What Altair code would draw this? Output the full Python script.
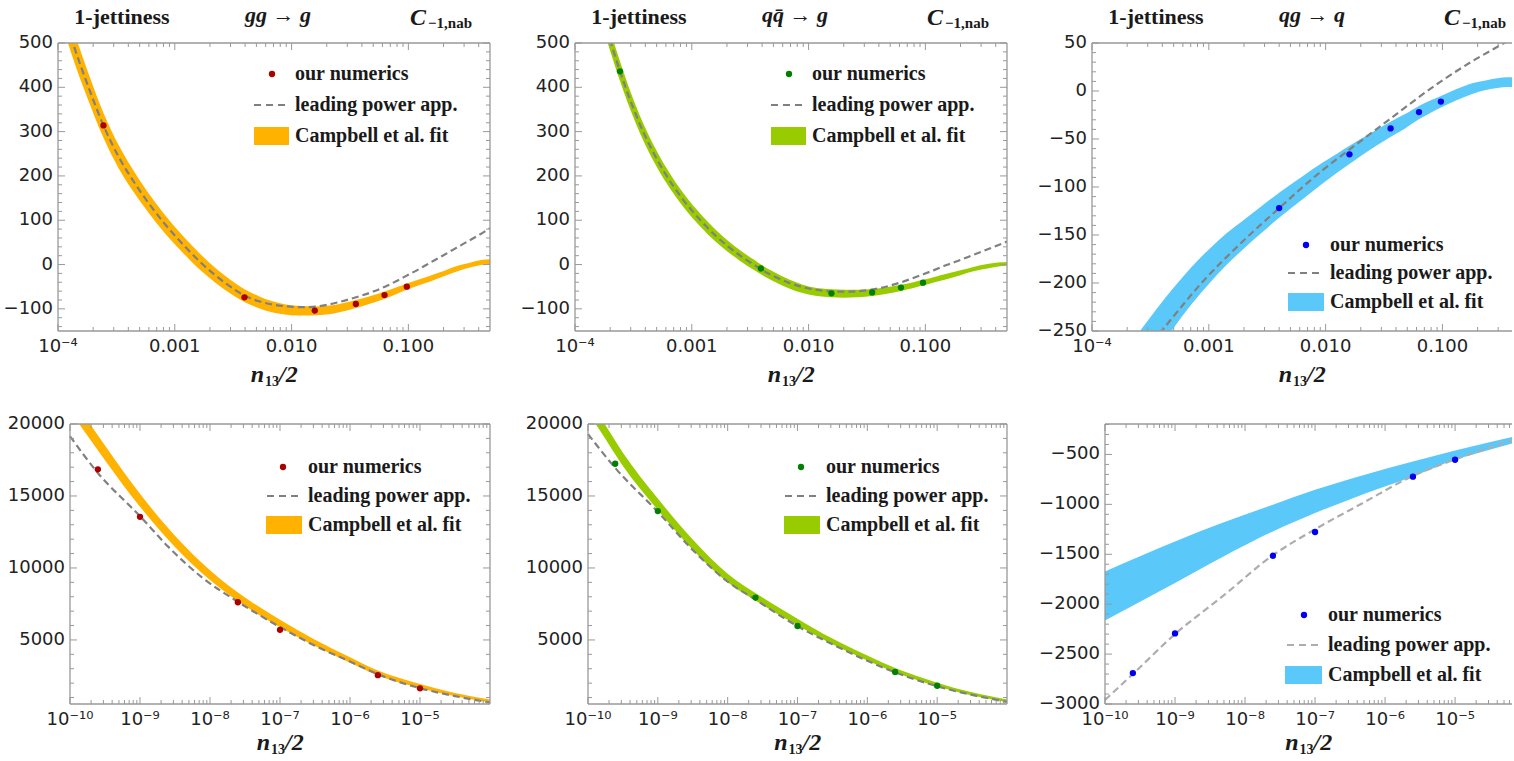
import altair as alt
import pandas as pd

# ---------------- top row: x = n13/2 ----------------
# gg -> g : Campbell fit band (centre and half-width), leading-power curve, numerics
gg_band_x = [1e-4, 1.34e-4, 1.78e-4, 2.45e-4, 3.31e-4, 4.43e-4, 5.96e-4, 8.02e-4, 1.15e-3, 1.66e-3, 2.24e-3,
             2.99e-3, 3.95e-3, 5.25e-3, 6.76e-3, 8.71e-3, 1.12e-2, 1.41e-2, 1.58e-2, 2.0e-2, 2.51e-2, 3.55e-2,
             4.68e-2, 6.24e-2, 7.94e-2, 9.66e-2, 0.123, 0.156, 0.204, 0.264, 0.331, 0.419, 0.5]
gg_band_c = [610, 500, 408, 314, 243, 188, 139, 95, 48, 5, -25, -50, -70, -85, -95, -101, -104, -104.5, -104.5,
             -103, -99, -89, -80, -69, -59, -50, -40, -31, -20, -9, -2, 4.5, 6.5]
gg_band_hw = [35, 34, 31, 28, 26, 24, 22, 21, 19, 18, 16.5, 15.5, 14.5, 13.5, 12.5, 11.5, 11, 10.5, 10, 10, 9.5,
              9, 8.5, 8, 7.5, 7, 6.5, 6.5, 6, 6, 5.5, 5.5, 5.5]
gg_lp_x = [1e-4, 1.34e-4, 1.78e-4, 2.45e-4, 3.31e-4, 4.43e-4, 5.96e-4, 8.02e-4, 1.15e-3, 1.66e-3, 2.24e-3,
           2.99e-3, 3.95e-3, 5.25e-3, 6.76e-3, 8.71e-3, 1.12e-2, 1.41e-2, 2.0e-2, 2.51e-2, 3.16e-2, 3.98e-2,
           5.01e-2, 6.31e-2, 7.94e-2, 0.1, 0.126, 0.158, 0.2, 0.251, 0.316, 0.398, 0.5]
gg_lp_y = [610, 500, 408, 314, 243, 188, 139, 95, 48, 5, -25, -50, -70, -83, -90, -94, -96, -96, -91, -85, -78,
           -70, -61, -50, -37, -23, -9, 6, 21, 36, 51, 66, 82]
gg_num_x = [2.45e-4, 3.95e-3, 1.58e-2, 3.55e-2, 6.25e-2, 9.7e-2]
gg_num_y = [314, -74, -104, -89, -69, -50]

# q qbar -> g
qq_band_x = [1e-4, 1.41e-4, 2.03e-4, 2.43e-4, 3.02e-4, 3.8e-4, 4.79e-4, 6.03e-4, 8.51e-4, 1.205e-3, 1.585e-3,
             2.04e-3, 2.63e-3, 3.47e-3, 3.91e-3, 5.01e-3, 6.9e-3, 8.91e-3, 1.175e-2, 1.574e-2, 2.0e-2, 2.63e-2,
             3.51e-2, 4.68e-2, 6.18e-2, 7.76e-2, 9.55e-2, 0.12, 0.152, 0.2, 0.258, 0.339, 0.438, 0.5]
qq_band_c = [770, 637, 500, 436, 366, 302, 248, 202, 145, 98, 66, 41, 19, -2, -11, -27, -44.6, -55, -62, -65,
             -66, -65.5, -63, -58.5, -52.5, -47, -41, -34, -27, -18.5, -10.4, -4, 0.5, 1.5]
qq_band_hw = [26, 24.5, 23, 22, 20.5, 19, 18, 17, 15.5, 14.5, 13.5, 12.5, 12, 11.5, 11, 10.5, 10, 9.5, 9, 9,
              9, 8.5, 8, 7.5, 7, 6.5, 6.5, 6, 6, 5.5, 5, 5, 4.5, 4.5]
qq_lp_x = [1e-4, 1.41e-4, 2.03e-4, 2.43e-4, 3.02e-4, 3.8e-4, 4.79e-4, 6.03e-4, 8.51e-4, 1.205e-3, 1.585e-3,
           2.04e-3, 2.63e-3, 3.47e-3, 3.91e-3, 5.01e-3, 6.9e-3, 9.6e-3, 1.26e-2, 1.62e-2, 2.25e-2, 2.82e-2,
           3.57e-2, 4.68e-2, 6.05e-2, 7.59e-2, 9.6e-2, 0.12, 0.152, 0.2, 0.258, 0.355, 0.5]
qq_lp_y = [770, 637, 500, 436, 366, 302, 248, 202, 145, 98, 66, 41, 19, -2, -11, -26, -42, -53, -58.5, -61,
           -61, -59.5, -56, -49.5, -41, -32, -22, -12, -1, 10.5, 22, 36, 52]
qq_num_x = [2.43e-4, 3.91e-3, 1.57e-2, 3.5e-2, 6.18e-2, 9.55e-2]
qq_num_y = [436, -9, -65, -63, -52, -41]

# q g -> q
qg_band_x = [2.0e-4, 2.69e-4, 3.57e-4, 5.01e-4, 7.08e-4, 1.0e-3, 1.41e-3, 2.0e-3, 2.82e-3, 4.0e-3, 6.31e-3,
             9.3e-3, 1.26e-2, 1.6e-2, 2.4e-2, 3.59e-2, 4.79e-2, 6.28e-2, 7.94e-2, 9.7e-2, 0.132, 0.18, 0.234,
             0.305, 0.355, 0.398]
qg_band_c = [-294, -271, -250, -225.7, -203, -183, -165, -149, -134, -119, -101, -86, -75, -66.6, -52.8, -40,
             -31.5, -22.5, -16.2, -11.2, -3.8, 2.5, 6, 8.5, 9.2, 9.3]
qg_band_hw = [25, 24, 23, 21, 19.5, 18, 16.5, 15, 14, 13, 12, 11, 10, 9.5, 8.5, 8, 7.5, 7, 6.5, 6, 5.8, 5.5, 5,
              5, 5, 5]
qg_lp_x = [2.5e-4, 3.94e-4, 9.27e-4, 1.79e-3, 4.0e-3, 9.3e-3, 1.6e-2, 3.48e-2, 9.3e-2, 0.18, 0.316, 0.398]
qg_lp_y = [-279, -250, -196, -161, -122, -83, -61, -30, 8.5, 31, 48, 55]
qg_num_x = [4.0e-3, 1.6e-2, 3.6e-2, 6.3e-2, 9.7e-2]
qg_num_y = [-122, -66, -39, -22, -11]

# ---------------- bottom row ----------------
ggb_band_x = [1e-10, 1.62e-10, 3.16e-10, 1e-9, 3.16e-9, 1e-8, 3.16e-8, 1e-7, 3.16e-7, 1e-6, 2.5e-6, 1e-5, 3.16e-5, 1e-4]
ggb_band_lo = [20940, 19460, 17490, 14250, 11460, 9160, 7350, 5890, 4580, 3410, 2530, 1660, 1080, 660]
ggb_band_hi = [22060, 20540, 18510, 15150, 12240, 9840, 7950, 6410, 5020, 3790, 2870, 1940, 1320, 860]
ggb_lp_x = [1e-10, 2.5e-10, 1e-9, 2.5e-9, 7.9e-9, 2.5e-8, 1e-7, 3.16e-7, 1e-6, 2.5e-6, 1e-5, 3.16e-5, 1e-4]
ggb_lp_y = [19150, 16600, 13600, 11500, 9300, 7650, 5900, 4600, 3500, 2620, 1650, 1100, 650]
ggb_num_x = [2.5e-10, 1e-9, 2.5e-8, 1e-7, 2.5e-6, 1e-5]
ggb_num_y = [16850, 13550, 7620, 5700, 2550, 1640]

qqb_band_x = [1e-10, 1.5e-10, 3.16e-10, 1e-9, 3.16e-9, 1e-8, 3.16e-8, 1e-7, 3.16e-7, 1e-6, 2.5e-6, 1e-5, 3.16e-5, 1e-4]
qqb_band_lo = [20800, 19510, 17090, 14030, 11270, 9000, 7430, 6020, 4700, 3580, 2750, 1770, 1140, 690]
qqb_band_hi = [21800, 20490, 18010, 14830, 11970, 9600, 7950, 6480, 5100, 3920, 3050, 2030, 1360, 870]
qqb_lp_x = [1e-10, 2.5e-10, 1e-9, 3.16e-9, 1e-8, 2.5e-8, 1e-7, 3.16e-7, 1e-6, 2.5e-6, 1e-5, 3.16e-5, 1e-4]
qqb_lp_y = [19300, 16900, 13900, 11250, 9050, 7800, 5950, 4700, 3550, 2750, 1780, 1180, 700]
qqb_num_x = [2.45e-10, 1e-9, 2.5e-8, 1e-7, 2.5e-6, 1e-5]
qqb_num_y = [17240, 13950, 7940, 5970, 2780, 1820]

qgb_band_x = [1e-10, 1e-9, 5e-9, 2.5e-8, 1e-7, 5e-7, 2.5e-6, 1e-5, 3.2e-5, 6.5e-5]
qgb_band_lo = [-2163, -1788, -1520, -1271, -1087, -895, -720, -553, -450, -390]
qgb_band_hi = [-1672, -1371, -1180, -1004, -854, -705, -570, -460, -375, -324]
qgb_lp_x = [1e-10, 2.5e-10, 1e-9, 5e-9, 2.5e-8, 1e-7, 5e-7, 2.5e-6, 1e-5, 6.5e-5]
qgb_lp_y = [-2960, -2700, -2300, -1910, -1510, -1250, -980, -715, -550, -360]
qgb_num_x = [2.5e-10, 1e-9, 2.5e-8, 1e-7, 2.5e-6, 1e-5]
qgb_num_y = [-2690, -2293, -1515, -1277, -723, -553]

# ---------------- ticks & labels ----------------
top_xticks = [1e-4, 1e-3, 1e-2, 1e-1]
top_xlabels = ['10⁻⁴', '0.001', '0.010', '0.100']
bot_xticks = [1e-10, 1e-9, 1e-8, 1e-7, 1e-6, 1e-5]
bot_xlabels = ['10⁻¹⁰', '10⁻⁹', '10⁻⁸', '10⁻⁷', '10⁻⁶', '10⁻⁵']
y_top_ab = [-100, 0, 100, 200, 300, 400, 500]
y_top_ab_labels = ['−100', '0', '100', '200', '300', '400', '500']
y_top_c = [-250, -200, -150, -100, -50, 0, 50]
y_top_c_labels = ['−250', '−200', '−150', '−100', '−50', '0', '50']
y_bot_ab = [5000, 10000, 15000, 20000]
y_bot_ab_labels = ['5000', '10000', '15000', '20000']
y_bot_c = [-3000, -2500, -2000, -1500, -1000, -500]
y_bot_c_labels = ['−3000', '−2500', '−2000', '−1500', '−1000', '−500']

legend_labels = ['our numerics', 'leading power app.', 'Campbell et al. fit']

ORANGE, GREEN, BLUE = '#FFB300', '#99CC00', '#5BC8FA'
RED_PT, GREEN_PT, BLUE_PT = '#AA0000', '#008000', '#0000F0'
LP, LP_LIGHT = '#808080', '#ADADAD'
FRAME = '#999999'
SERIF = 'Liberation Serif'
SANS = 'DejaVu Sans'
TXT = '#1a1a1a'

one = pd.DataFrame({'k': [0]})


def band_from(c, hw):
    return [a - b for a, b in zip(c, hw)], [a + b for a, b in zip(c, hw)]


def minor_log(dom):
    out = []
    for e in range(-10, 0):
        for k in range(2, 10):
            v = k * 10.0 ** e
            if dom[0] < v < dom[1] * 0.999:
                out.append(v)
    return out


def text(s, x, y, size, weight='bold', style='normal', align='left', baseline='alphabetic', font=SERIF, color=TXT):
    return alt.Chart(one).mark_text(text=s, font=font, fontSize=size, fontWeight=weight, fontStyle=style,
                                    align=align, baseline=baseline, color=color).encode(
        x=alt.value(x), y=alt.value(y))


def panel(W, H, x0, xdom, ydom, band, lp, num, cols, xt, xl, yt, yl, ystep, leg, ty,
          right=True, title=None, pin=False):
    xs = alt.Scale(type='log', domain=xdom, range=[x0, W], nice=False, padding=0)
    ys = alt.Scale(domain=ydom, nice=False, zero=False, padding=0)
    X = lambda f: alt.X(f, scale=xs, axis=None)
    Y = lambda f: alt.Y(f, scale=ys, axis=None)
    bc, pc, dc = cols
    L = []
    bdf = pd.DataFrame({'x': band[0], 'lo': band[1], 'hi': band[2]})
    L.append(alt.Chart(bdf).mark_area(color=bc, opacity=1, interpolate='monotone', clip=True).encode(
        x=X('x:Q'), y=Y('lo:Q'), y2='hi:Q'))
    ldf = pd.DataFrame({'x': lp[0], 'y': lp[1]})
    L.append(alt.Chart(ldf).mark_line(color=dc, strokeDash=[7, 4], strokeWidth=2.2,
                                      interpolate='monotone', clip=True).encode(x=X('x:Q'), y=Y('y:Q')))
    ndf = pd.DataFrame({'x': num[0], 'y': num[1]})
    L.append(alt.Chart(ndf).mark_circle(color=pc, size=40, opacity=1).encode(x=X('x:Q'), y=Y('y:Q')))

    # ticks (inward, Mathematica style)
    xmin = minor_log(xdom)
    xmaj = [v for v in xt if xdom[0] <= v <= xdom[1]]
    ymaj = [v for v in yt if ydom[0] <= v <= ydom[1]]
    ymin = []
    v = ymaj[0]
    while v - ystep > ydom[0]:
        v -= ystep
    while v < ydom[1]:
        if v not in ymaj:
            ymin.append(v)
        v += ystep

    rule = dict(color=FRAME, strokeWidth=1)

    def xtick(vals, ln):
        d = pd.DataFrame({'v': vals})
        return [alt.Chart(d).mark_rule(**rule).encode(x=X('v:Q'), y=alt.value(H), y2=alt.value(H - ln)),
                alt.Chart(d).mark_rule(**rule).encode(x=X('v:Q'), y=alt.value(0), y2=alt.value(ln))]

    def ytick(vals, ln):
        d = pd.DataFrame({'v': vals})
        r = [alt.Chart(d).mark_rule(**rule).encode(y=Y('v:Q'), x=alt.value(x0), x2=alt.value(x0 + ln))]
        if right:
            r.append(alt.Chart(d).mark_rule(**rule).encode(y=Y('v:Q'), x=alt.value(W), x2=alt.value(W - ln)))
        return r

    L += xtick(xmaj, 7) + xtick(xmin, 4) + ytick(ymaj, 7) + ytick(ymin, 4)

    # frame
    fr = dict(color=FRAME, strokeWidth=1.3)
    L.append(alt.Chart(one).mark_rule(**fr).encode(x=alt.value(x0), x2=alt.value(W), y=alt.value(0)))
    L.append(alt.Chart(one).mark_rule(**fr).encode(x=alt.value(x0), x2=alt.value(W), y=alt.value(H)))
    L.append(alt.Chart(one).mark_rule(**fr).encode(x=alt.value(x0), y=alt.value(0), y2=alt.value(H)))
    if right:
        L.append(alt.Chart(one).mark_rule(**fr).encode(x=alt.value(W), y=alt.value(0), y2=alt.value(H)))

    # tick labels
    xldf = pd.DataFrame({'v': xt, 'lab': xl})
    L.append(alt.Chart(xldf).mark_text(font=SANS, fontSize=18, color='#222', align='center',
                                       baseline='alphabetic').encode(x=X('v:Q'), y=alt.value(H + 21), text='lab:N'))
    yldf = pd.DataFrame({'v': yt, 'lab': yl})
    L.append(alt.Chart(yldf).mark_text(font=SANS, fontSize=18, color='#222', align='right',
                                       baseline='middle').encode(y=Y('v:Q'), x=alt.value(x0 - 5), text='lab:N'))

    # legend
    (px, py), tx, rows, (d1, d2, dy), (r1, r2, ry1, ry2) = leg
    L.append(alt.Chart(one).mark_circle(color=pc, size=40, opacity=1).encode(
        x=alt.value(x0 + px), y=alt.value(py)))
    L.append(alt.Chart(one).mark_rule(color=dc, strokeDash=[7, 5], strokeWidth=2).encode(
        x=alt.value(x0 + d1), x2=alt.value(x0 + d2), y=alt.value(dy)))
    L.append(alt.Chart(one).mark_rect(color=bc).encode(
        x=alt.value(x0 + r1), x2=alt.value(x0 + r2), y=alt.value(ry1), y2=alt.value(ry2)))
    for s, ry in zip(legend_labels, rows):
        L.append(text(s, x0 + tx, ry, 20, baseline='middle'))

    # x-axis title n_13/2
    cx = x0 + (W - x0) / 2
    L.append(text('n', cx - 10, H + ty, 24, style='italic', align='right'))
    L.append(text('13', cx - 9, H + ty + 4, 14, align='left'))
    L.append(text('/2', cx + 5, H + ty, 24, style='italic', align='left'))

    if title:
        L.append(text('1-jettiness', x0 + 64, -19, 22, align='center'))
        L.append(text(title, x0 + 220, -21, 22, style='italic', align='center'))
        L.append(text('C', x0 + 352, -18, 24, style='italic'))
        L.append(text('−1,nab', x0 + 370, -15, 15))
    if pin:
        L.append(alt.Chart(one).mark_rule(strokeWidth=0, opacity=0).encode(
            x=alt.value(-58), x2=alt.value(-57), y=alt.value(-43)))
    return alt.layer(*L).properties(width=W, height=H)


leg_top = ((214, 31), 237, [31, 62, 93], (196, 229, 62), (196, 231, 84, 102))
leg_qg = ((214, 202), 238, [202, 230, 259], (196, 230, 230), (196, 232, 250, 268))
leg_bot = ((213, 43), 238, [43, 72, 101], (197, 230, 72), (196, 232, 92, 110))
leg_qgb = ((199, 191), 223, [191, 221, 251], (182, 214, 221), (180, 217, 242, 260))

gg_lo, gg_hi = band_from(gg_band_c, gg_band_hw)
qq_lo, qq_hi = band_from(qq_band_c, qq_band_hw)
qg_lo, qg_hi = band_from(qg_band_c, qg_band_hw)

p1 = panel(432, 288, 0, [1e-4, 0.5], [-150, 500], (gg_band_x, gg_lo, gg_hi), (gg_lp_x, gg_lp_y),
           (gg_num_x, gg_num_y), (ORANGE, RED_PT, LP), top_xticks, top_xlabels, y_top_ab, y_top_ab_labels, 20,
           leg_top, 51, title='gg → g', pin=True)
p2 = panel(432, 288, 0, [1e-4, 0.5], [-150, 500], (qq_band_x, qq_lo, qq_hi), (qq_lp_x, qq_lp_y),
           (qq_num_x, qq_num_y), (GREEN, GREEN_PT, LP), top_xticks, top_xlabels, y_top_ab, y_top_ab_labels, 20,
           leg_top, 51, title='qq̄ → g')
p3 = panel(420, 288, 0, [1e-4, 0.394], [-250, 50], (qg_band_x, qg_lo, qg_hi), (qg_lp_x, qg_lp_y),
           (qg_num_x, qg_num_y), (BLUE, BLUE_PT, LP), top_xticks, top_xlabels, y_top_c, y_top_c_labels, 10,
           leg_qg, 51, right=False, title='qg → q')
p4 = panel(432, 280, 12, [1e-10, 1e-4], [550, 20000], (ggb_band_x, ggb_band_lo, ggb_band_hi),
           (ggb_lp_x, ggb_lp_y), (ggb_num_x, ggb_num_y), (ORANGE, RED_PT, LP), bot_xticks, bot_xlabels,
           y_bot_ab, y_bot_ab_labels, 1000, leg_bot, 46)
p5 = panel(432, 280, 13, [1e-10, 1e-4], [550, 20000], (qqb_band_x, qqb_band_lo, qqb_band_hi),
           (qqb_lp_x, qqb_lp_y), (qqb_num_x, qqb_num_y), (GREEN, GREEN_PT, LP), bot_xticks, bot_xlabels,
           y_bot_ab, y_bot_ab_labels, 1000, leg_bot, 46)
p6 = panel(420, 280, 13, [1e-10, 6.5e-5], [-3000, -195], (qgb_band_x, qgb_band_lo, qgb_band_hi),
           (qgb_lp_x, qgb_lp_y), (qgb_num_x, qgb_num_y), (BLUE, BLUE_PT, LP_LIGHT), bot_xticks, bot_xlabels,
           y_bot_c, y_bot_c_labels, 100, leg_qgb, 46, right=False)

chart = alt.concat(p1, p2, p3, p4, p5, p6, columns=3, spacing={'row': 93, 'column': 85},
                   bounds='flush').configure_view(stroke=None).properties(
    padding={'left': 0, 'top': 0, 'right': 0, 'bottom': 0}, background='white')

chart.save("out.html", embed_options={"renderer": "svg", "actions": False})
